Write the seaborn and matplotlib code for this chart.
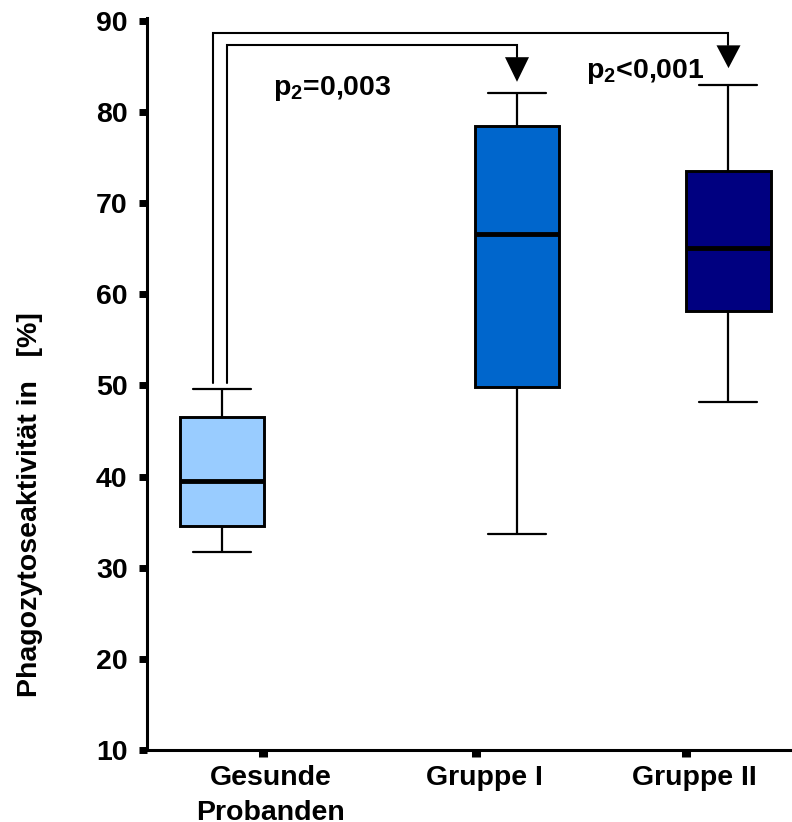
import numpy as np
import pandas as pd
import matplotlib
matplotlib.use("Agg")
import matplotlib.pyplot as plt
import seaborn as sns

# Five-number summaries (min, Q1, median, Q3, max) of phagocytic activity in %
gruppen = ["Gesunde\nProbanden", "Gruppe I", "Gruppe II"]
gesund = [31.7, 34.6, 39.5, 46.5, 49.6]
gruppe_1 = [33.7, 49.8, 66.6, 78.5, 82.1]
gruppe_2 = [48.2, 58.2, 65.1, 73.5, 83.0]
farben = ["#99CCFF", "#0066CC", "#000080"]
p_texte = ["p$_{2}$=0,003", "p$_{2}$<0,001"]
y_ticks = [10, 20, 30, 40, 50, 60, 70, 80, 90]

# layout along the x axis (1 unit = 100 px)
box_pos = [0.75, 3.70, 5.815]
tick_pos = [1.16, 3.29, 5.39]
label_shift = 0.08

sns.set_theme(style="ticks")
plt.rcParams["font.family"] = ["Liberation Sans", "DejaVu Sans"]
plt.rcParams["font.weight"] = "bold"
plt.rcParams["text.color"] = "black"
plt.rcParams["axes.labelcolor"] = "black"
plt.rcParams["xtick.color"] = "black"
plt.rcParams["ytick.color"] = "black"
plt.rcParams["mathtext.fontset"] = "custom"
plt.rcParams["mathtext.bf"] = "Liberation Sans:bold"
plt.rcParams["mathtext.rm"] = "Liberation Sans:bold"
plt.rcParams["mathtext.default"] = "bf"

werte = [gesund, gruppe_1, gruppe_2]
df = pd.DataFrame({
    "gruppe": np.repeat(gruppen, [len(v) for v in werte]),
    "pos": np.repeat(box_pos, [len(v) for v in werte]),
    "wert": np.concatenate(werte),
})

fig = plt.figure(figsize=(7.92, 8.22), dpi=100)
ax = fig.add_axes([0.1856, 0.0876, 0.8144, 0.8905])

sns.boxplot(
    data=df, x="pos", y="wert", hue="gruppe",
    palette=dict(zip(gruppen, farben)), saturation=1,
    native_scale=True, dodge=False, width=0.40, whis=(0, 100),
    linecolor="black", linewidth=2.1, fliersize=0, legend=False, ax=ax,
    boxprops=dict(linewidth=2.1),
    medianprops=dict(linewidth=3.5, color="black"),
    whiskerprops=dict(linewidth=1.6),
    capprops=dict(linewidth=1.6),
    capwidths=0.58,
)

ax.set_xlim(0, 6.45)
ax.set_ylim(10, 90.3)
ax.set_yticks(y_ticks)
ax.set_yticklabels([str(t) for t in y_ticks], fontsize=20.5, fontweight="bold")

# tick marks at the group positions, names set slightly to the right of them
ax.set_xticks(tick_pos)
ax.set_xticklabels([""] * len(tick_pos))
ax.set_xticks([t + label_shift for t in tick_pos], minor=True)
ax.set_xticklabels(gruppen, minor=True, fontsize=20.5, fontweight="bold",
                   linespacing=1.45)

ax.set_xlabel("")
ax.set_ylabel("Phagozytoseaktivität in   [%]", fontsize=20.5, fontweight="bold")
ax.yaxis.set_label_coords(-0.161, 0.3347)

for side in ["top", "right"]:
    ax.spines[side].set_visible(False)
for side in ["left", "bottom"]:
    ax.spines[side].set_linewidth(2.2)
    ax.spines[side].set_color("black")
ax.tick_params(axis="y", which="major", direction="out", length=6, width=5, pad=8)
ax.tick_params(axis="y", which="minor", length=0)
ax.tick_params(axis="x", which="major", direction="out", length=5, width=6.5)
ax.tick_params(axis="x", which="minor", length=0, pad=11)

# significance brackets from the healthy group to both patient groups
lw = 1.5
start = max(gesund) + 0.7
brackets = [
    # (x at healthy box, bracket height, target box, head top, head tip)
    (box_pos[0] + 0.05, 87.3, box_pos[1], 86.0, 83.3),
    (box_pos[0] - 0.09, 88.65, box_pos[2], 87.3, 84.8),
]
for x0, top, x1, head_top, tip in brackets:
    ax.plot([x0, x0, x1, x1], [start, top, top, head_top],
            color="black", lw=lw, solid_joinstyle="miter", clip_on=False)
    ax.fill([x1 - 0.12, x1 + 0.12, x1], [head_top, head_top, tip],
            color="black", lw=0, clip_on=False)

ax.text(1.26, 81.85, p_texte[0], fontsize=20.5, fontweight="bold",
        ha="left", va="baseline")
ax.text(4.39, 83.7, p_texte[1], fontsize=20.5, fontweight="bold",
        ha="left", va="baseline")

fig.savefig("out.png", dpi=100)
